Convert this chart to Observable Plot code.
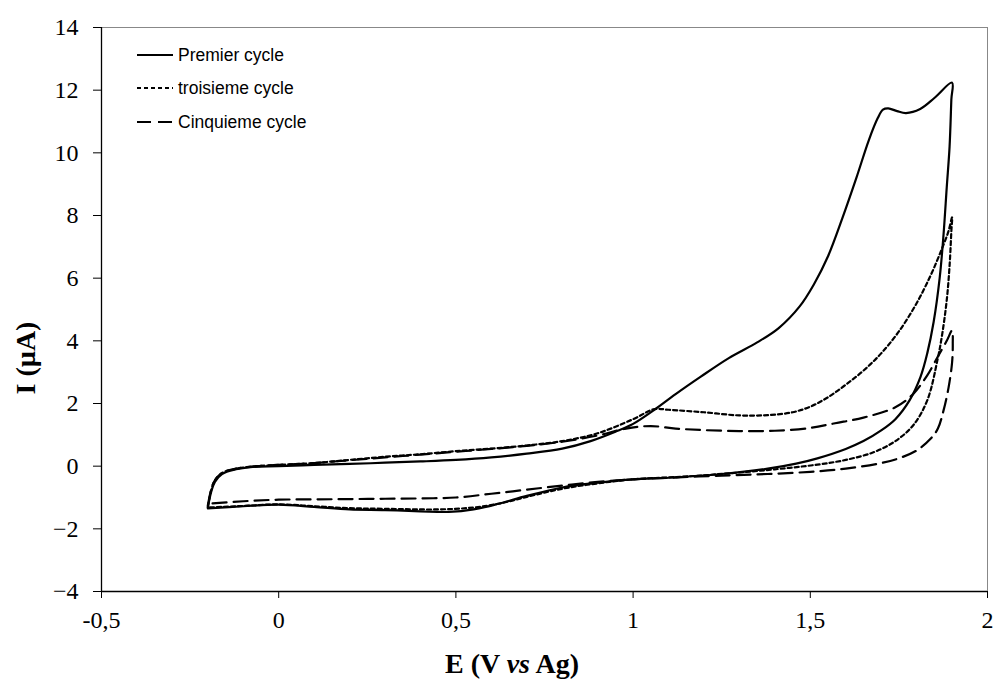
<!DOCTYPE html>
<html>
<head>
<meta charset="utf-8">
<script src="https://cdn.jsdelivr.net/npm/d3@7"></script>
<script src="https://cdn.jsdelivr.net/npm/@observablehq/plot@0.6"></script>
<style>
  html, body { margin: 0; padding: 0; background: #fff; }
  #chart { position: relative; width: 993px; height: 681px; }
</style>
</head>
<body>
<div id="chart"></div>
<script>
// ---- Data ----
const seriesNames = ["Premier cycle", "troisieme cycle", "Cinquieme cycle"];

const premierE = [-0.2,-0.19,-0.18,-0.16,-0.12,-0.08,0,0.1,0.2,0.3,0.4,0.5,0.6,0.7,0.8,0.88,0.95,1.0,1.06,1.12,1.19,1.27,1.35,1.41,1.47,1.51,1.55,1.59,1.63,1.665,1.69,1.705,1.72,1.745,1.77,1.81,1.85,1.9,
  1.898,1.893,1.885,1.876,1.865,1.848,1.83,1.811,1.78,1.74,1.70,1.65,1.6,1.52,1.46,1.38,1.25,1.1,1.0,0.9,0.8,0.7,0.62,0.55,0.48,0.4,0.3,0.2,0.1,0.0,-0.1,-0.2];
const premierI = [-1.32,-0.8,-0.5,-0.25,-0.1,-0.03,0.0,0.04,0.07,0.11,0.15,0.2,0.28,0.4,0.56,0.8,1.1,1.35,1.8,2.3,2.85,3.45,3.95,4.4,5.1,5.8,6.7,7.9,9.2,10.4,11.1,11.38,11.42,11.33,11.27,11.4,11.75,12.24,
  11.7,10.2,8.9,7.4,6.0,4.6,3.6,2.85,2.1,1.5,1.14,0.8,0.55,0.25,0.08,-0.08,-0.25,-0.37,-0.42,-0.53,-0.68,-0.95,-1.2,-1.38,-1.46,-1.44,-1.4,-1.38,-1.3,-1.23,-1.28,-1.35];

const troisiemeE = [-0.2,-0.19,-0.18,-0.16,-0.12,-0.06,0,0.1,0.2,0.3,0.4,0.5,0.6,0.7,0.8,0.9,1.0,1.06,1.1,1.2,1.3,1.38,1.45,1.5,1.55,1.6,1.65,1.7,1.75,1.8,1.84,1.87,1.89,1.9,
  1.898,1.893,1.885,1.872,1.859,1.83,1.79,1.74,1.68,1.6,1.52,1.4,1.28,1.15,1.0,0.9,0.8,0.7,0.62,0.55,0.45,0.3,0.2,0.1,0,-0.1,-0.2];
const troisiemeI = [-1.3,-0.75,-0.45,-0.22,-0.08,0.0,0.04,0.1,0.2,0.3,0.38,0.48,0.56,0.66,0.8,1.05,1.5,1.82,1.8,1.72,1.62,1.63,1.72,1.9,2.2,2.6,3.05,3.6,4.3,5.2,6.1,6.9,7.5,7.94,
  7.5,6.4,5.3,4.2,3.4,2.1,1.3,0.8,0.45,0.2,0.05,-0.1,-0.22,-0.33,-0.42,-0.55,-0.72,-0.98,-1.2,-1.32,-1.38,-1.36,-1.34,-1.28,-1.22,-1.27,-1.32];

const cinquiemeE = [-0.2,-0.19,-0.18,-0.16,-0.12,-0.06,0,0.1,0.2,0.3,0.4,0.5,0.6,0.7,0.8,0.9,0.98,1.05,1.12,1.2,1.3,1.4,1.5,1.57,1.65,1.74,1.79,1.83,1.86,1.885,1.9,
  1.902,1.9,1.89,1.876,1.86,1.84,1.8,1.75,1.7,1.6,1.5,1.38,1.25,1.1,1.0,0.9,0.8,0.7,0.6,0.5,0.4,0.3,0.2,0.1,0,-0.1,-0.2];
const cinquiemeI = [-1.25,-0.72,-0.45,-0.22,-0.08,0.0,0.04,0.1,0.19,0.28,0.37,0.46,0.55,0.65,0.78,0.98,1.2,1.28,1.2,1.15,1.12,1.13,1.22,1.37,1.55,1.88,2.3,2.9,3.5,4.0,4.33,
  3.9,3.3,2.5,1.78,1.2,0.88,0.5,0.25,0.1,-0.08,-0.18,-0.25,-0.3,-0.37,-0.42,-0.5,-0.62,-0.75,-0.88,-1.0,-1.03,-1.04,-1.05,-1.06,-1.07,-1.12,-1.2];

const xTicks = [-0.5, 0, 0.5, 1, 1.5, 2];
const yTicks = [-4, -2, 0, 2, 4, 6, 8, 10, 12, 14];

// ---- Build tables ----
function toRows(E, I, name) { return E.map((e, i) => ({E: e, I: I[i], series: name})); }
const premier = toRows(premierE, premierI, seriesNames[0]);
const troisieme = toRows(troisiemeE, troisiemeI, seriesNames[1]);
const cinquieme = toRows(cinquiemeE, cinquiemeI, seriesNames[2]);

const dashes = ["none", "4,3", "14,7"];
const serif = "'Liberation Serif', 'Times New Roman', serif";

const plot = Plot.plot({
  width: 993,
  height: 681,
  marginLeft: 101,
  marginRight: 6,
  marginTop: 27,
  marginBottom: 90,
  style: {fontFamily: serif, fontSize: "24px", color: "#000", background: "#fff", overflow: "visible"},
  x: {domain: [-0.5, 2], label: null},
  y: {domain: [-4, 14], label: null},
  marks: [
    Plot.frame({stroke: "#888", strokeWidth: 1}),
    Plot.ruleY([-4], {stroke: "#000", strokeWidth: 1.3}),
    Plot.ruleX([-0.5], {stroke: "#000", strokeWidth: 1.3}),
    Plot.axisX({ticks: xTicks, tickSize: 7, tickPadding: 12, tickFormat: d => String(d).replace(".", ","), fontSize: 24, label: null, stroke: "#000", strokeWidth: 1}),
    Plot.axisY({ticks: yTicks, tickSize: 8, tickPadding: 15, fontSize: 24, label: null, stroke: "#000", strokeWidth: 1}),
    Plot.line(cinquieme, {x: "E", y: "I", stroke: "#000", strokeWidth: 2.2, strokeDasharray: dashes[2], curve: "catmull-rom"}),
    Plot.line(troisieme, {x: "E", y: "I", stroke: "#000", strokeWidth: 2.2, strokeDasharray: dashes[1], curve: "catmull-rom"}),
    Plot.line(premier, {x: "E", y: "I", stroke: "#000", strokeWidth: 2.2, curve: "catmull-rom"})
  ]
});

document.getElementById("chart").appendChild(plot);

// ---- Axis titles and legend ----
const svg = d3.select(plot);

const xt = svg.append("text")
  .attr("x", 512).attr("y", 673)
  .attr("text-anchor", "middle")
  .attr("font-family", serif).attr("font-size", 28).attr("font-weight", "bold")
  .attr("fill", "#000");
xt.append("tspan").text("E (V ");
xt.append("tspan").attr("font-style", "italic").text("vs");
xt.append("tspan").text(" Ag)");

svg.append("text")
  .attr("transform", "translate(35,358) rotate(-90)")
  .attr("text-anchor", "middle")
  .attr("font-family", serif).attr("font-size", 28).attr("font-weight", "bold")
  .attr("fill", "#000")
  .text("I (µA)");

const legendY = [55, 88, 122];
const lg = svg.append("g").attr("text-anchor", "start");
seriesNames.forEach((name, i) => {
  lg.append("line")
    .attr("x1", 137).attr("x2", 173).attr("y1", legendY[i]).attr("y2", legendY[i])
    .attr("stroke", "#000").attr("stroke-width", 2)
    .attr("stroke-dasharray", dashes[i] === "none" ? null : dashes[i]);
  lg.append("text")
    .attr("x", 178).attr("y", legendY[i])
    .attr("dy", "0.35em")
    .attr("text-anchor", "start")
    .attr("font-family", "'Liberation Sans', Arial, sans-serif")
    .attr("font-size", 17.5)
    .attr("fill", "#000")
    .text(name);
});
</script>
</body>
</html>
